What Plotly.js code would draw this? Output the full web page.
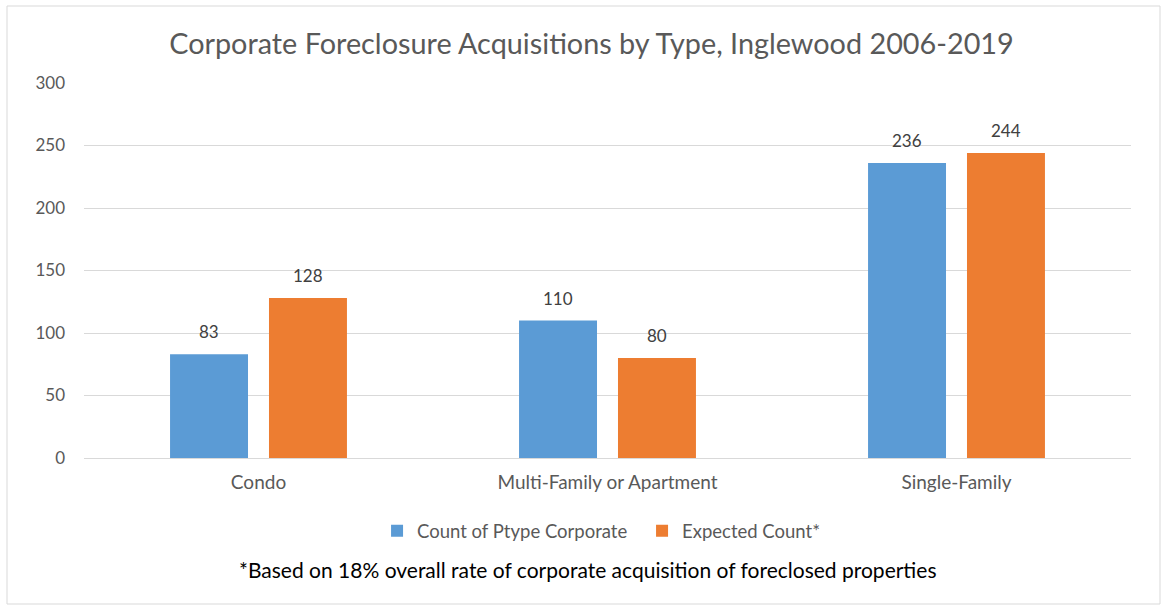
<!DOCTYPE html>
<html>
<head>
<meta charset="utf-8">
<script src="https://cdn.plot.ly/plotly-3.0.1.min.js"></script>
<style>
html,body{margin:0;padding:0;background:#fff;}
#chart{width:1163px;height:607px;}
</style>
</head>
<body>
<div id="chart"></div>
<script>
const categories = ["Condo", "Multi-Family or Apartment", "Single-Family"];
const corporateCounts = [83, 110, 236];
const expectedCounts = [128, 80, 244];
const seriesNames = ["Count of Ptype Corporate", "Expected Count*"];
const yTicks = [0, 50, 100, 150, 200, 250, 300];
const footnote = "*Based on 18% overall rate of corporate acquisition of foreclosed properties";
const titleText = "Corporate Foreclosure Acquisitions by Type, Inglewood 2006-2019";

const FONT = "Lato, sans-serif";
const blue = "#5B9BD5", orange = "#ED7D31";

const traces = [
  {type:"bar", name:seriesNames[0], x:categories, y:corporateCounts, marker:{color:blue}, hoverinfo:"y"},
  {type:"bar", name:seriesNames[1], x:categories, y:expectedCounts, marker:{color:orange}, hoverinfo:"y"}
];

const annotations = [];
[corporateCounts, expectedCounts].forEach((vals, si) => {
  vals.forEach((v, i) => {
    annotations.push({
      x: categories[i], y: v, xref:"x", yref:"y",
      text: String(v), showarrow:false, yanchor:"bottom",
      xshift: si === 0 ? -49.5 : 49.5, yshift: 10,
      font:{family:FONT, size:17, color:"#404040"}
    });
  });
});
annotations.push({
  xref:"paper", yref:"paper", x:0.481, y:-0.296, xanchor:"center", yanchor:"middle",
  text: footnote, showarrow:false, font:{family:FONT, size:21, color:"#000"}
});

const layout = {
  width:1163, height:607,
  margin:{l:84, r:32, t:83, b:149},
  paper_bgcolor:"#fff", plot_bgcolor:"#fff",
  title:{text:titleText, x:0.5086, xanchor:"center", y:0.927, yanchor:"middle",
         font:{family:FONT, size:28.8, color:"#595959"}},
  barmode:"group", bargap:0.433, bargroupgap:0.212,
  xaxis:{showgrid:false, zeroline:false, showline:false, ticks:"", ticklabelstandoff:11,
         tickfont:{family:FONT, size:19, color:"#595959"}},
  yaxis:{range:[0,300], tickvals:yTicks, showgrid:true, gridcolor:"#D9D9D9", gridwidth:1,
         zeroline:true, zerolinecolor:"#D9D9D9", zerolinewidth:1, showline:false,
         ticks:"", ticklabelstandoff:18,
         tickfont:{family:FONT, size:17, color:"#595959"}},
  showlegend:true,
  legend:{orientation:"h", x:0.533, xanchor:"center", y:-0.195, yanchor:"middle",
          font:{family:FONT, size:18.5, color:"#595959"}, itemwidth:30, tracegroupgap:0,
          entrywidth:220, entrywidthmode:"pixels"},
  annotations: annotations,
  shapes:[{type:"rect", xref:"paper", yref:"paper",
           x0:(7-84)/1047, x1:(1160-84)/1047, y0:(458-604)/375, y1:(458-6)/375,
           line:{color:"#D9D9D9", width:1}, fillcolor:"rgba(0,0,0,0)", layer:"below"}]
};

Plotly.newPlot("chart", traces, layout, {displayModeBar:false, staticPlot:true});
</script>
</body>
</html>
